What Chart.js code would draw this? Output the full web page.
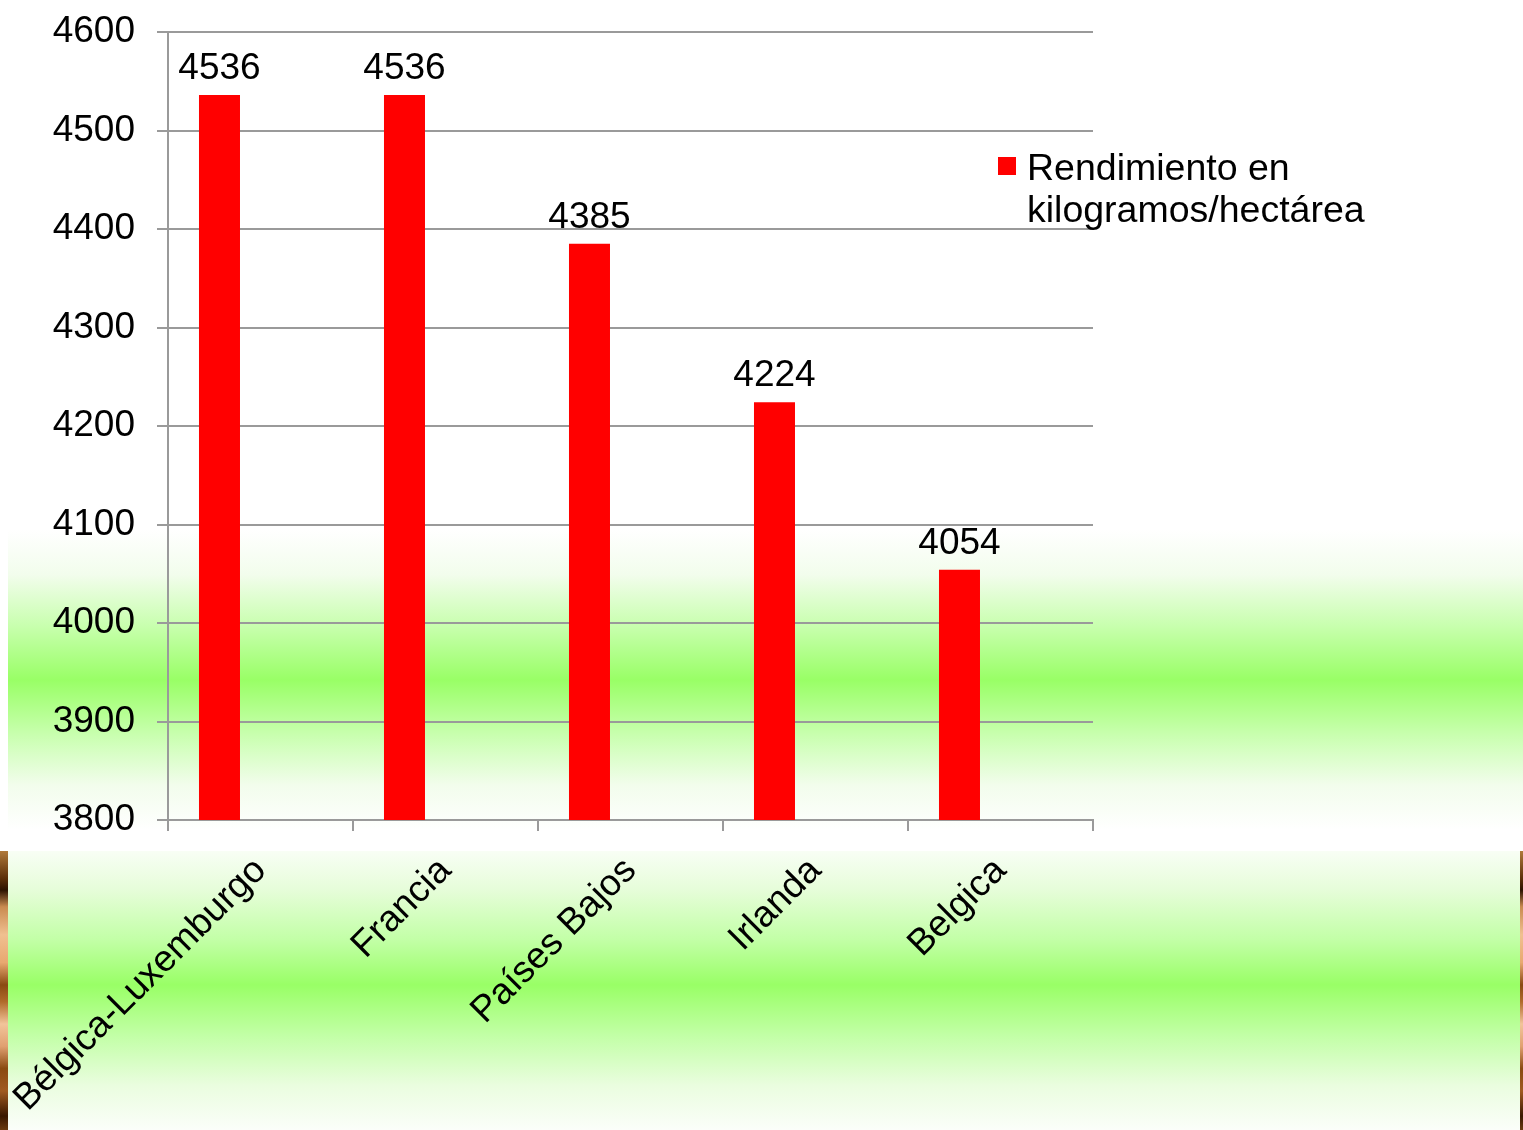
<!DOCTYPE html>
<html><head><meta charset="utf-8">
<script src="https://cdn.jsdelivr.net/npm/chart.js@4/dist/chart.umd.min.js"></script>
<style>
html,body{margin:0;padding:0;background:#fff;width:1523px;height:1130px;overflow:hidden;position:relative;}
.band1{position:absolute;left:8px;top:530px;width:1515px;height:300px;
 background:linear-gradient(to bottom,#ffffff 0%,#f2fdec 15%,#c8ffae 32%,#99ff66 50%,#c8ffae 68%,#f2fdec 85%,#ffffff 100%);}
.band2{position:absolute;left:8px;top:851px;width:1512px;height:279px;
 background:linear-gradient(to bottom,#f8fef5 0%,#e6fdd9 14%,#c2ffa6 32%,#99ff66 48%,#c2ffa6 66%,#eafddf 84%,#fbfefa 100%);}
.wood{position:absolute;top:851px;height:279px;
 background:linear-gradient(to bottom,#b07a3a 0%,#5a2e08 10%,#2c1200 14%,#c98a50 20%,#f0c090 30%,#e8a870 40%,#8a4a12 48%,#b06a2a 54%,#f2c49a 62%,#e0a070 70%,#8a4a10 78%,#a05a20 86%,#3a1800 95%,#6a3a10 100%);}
canvas{position:absolute;left:0;top:0;}
</style></head>
<body>
<div class="band1"></div>
<div class="band2"></div>
<div class="wood" style="left:0;width:8px"></div>
<div class="wood" style="left:1520px;width:3px"></div>
<canvas id="c" width="1523" height="1130"></canvas>
<script>
const categories = ['Bélgica-Luxemburgo', 'Francia', 'Países Bajos', 'Irlanda', 'Belgica'];
const values = [4536, 4536, 4385, 4224, 4054];
// the original chart reserves two further (empty) series slots beside each bar
const emptySeries = [null, null, null, null, null];
const seriesLabel = 'Rendimiento en kilogramos/hectárea';
const legendLines = ['Rendimiento en', 'kilogramos/hectárea'];
const yMin = 3800, yMax = 4600, yStep = 100;

const FONT = '"Liberation Sans", Arial, sans-serif';
const FSIZE = 37;
const GRID = '#9a9a9a';

const labelsPlugin = {
  id: 'valueLabels',
  afterDatasetsDraw(chart) {
    const ctx = chart.ctx;
    const meta = chart.getDatasetMeta(0);
    ctx.save();
    ctx.fillStyle = '#000';
    ctx.font = FSIZE + 'px ' + FONT;
    ctx.textAlign = 'center';
    ctx.textBaseline = 'alphabetic';
    meta.data.forEach((bar, i) => {
      ctx.fillText(String(chart.data.datasets[0].data[i]), bar.x, bar.y - 16);
    });
    ctx.restore();
  },
  afterDraw(chart) {
    const ctx = chart.ctx;
    const a = chart.chartArea;
    ctx.save();
    const bx = a.right - 95, by = a.top + 125;
    ctx.fillStyle = chart.data.datasets[0].backgroundColor;
    ctx.fillRect(bx, by, 18, 18);
    ctx.fillStyle = '#000';
    ctx.font = '37.5px ' + FONT;
    ctx.textAlign = 'left';
    ctx.textBaseline = 'alphabetic';
    legendLines.forEach((t, i) => ctx.fillText(t, bx + 29, by + 23 + i * 42));
    ctx.restore();
  }
};

const barOpts = { backgroundColor: '#ff0000', borderWidth: 0, categoryPercentage: 0.665, barPercentage: 1 };

new Chart(document.getElementById('c'), {
  type: 'bar',
  data: {
    labels: categories,
    datasets: [
      Object.assign({ label: seriesLabel, data: values }, barOpts),
      Object.assign({ label: '', data: emptySeries }, barOpts),
      Object.assign({ label: '', data: emptySeries }, barOpts)
    ]
  },
  options: {
    responsive: false,
    animation: false,
    layout: { padding: { top: 32, right: 430, left: 0, bottom: 0 } },
    plugins: { legend: { display: false }, tooltip: { enabled: false } },
    scales: {
      x: {
        grid: { display: true, drawOnChartArea: false, offset: true, color: GRID, lineWidth: 2, tickLength: 11 },
        border: { display: true, color: GRID, width: 2 },
        ticks: { autoSkip: false, minRotation: 45, maxRotation: 45, padding: 18, color: '#000', font: { family: FONT, size: FSIZE } },
        afterFit(s) { s.height = 310; s.paddingLeft = 0; s.paddingRight = 0; }
      },
      y: {
        min: yMin, max: yMax,
        grid: { color: GRID, lineWidth: 2, tickLength: 11 },
        border: { display: true, color: GRID, width: 2 },
        ticks: { stepSize: yStep, padding: 22, color: '#000', font: { family: FONT, size: FSIZE },
                 callback: (v) => String(v) },
        afterFit(s) { s.width = 168; s.paddingTop = 0; s.paddingBottom = 0; }
      }
    }
  },
  plugins: [labelsPlugin]
});
</script>
</body></html>
